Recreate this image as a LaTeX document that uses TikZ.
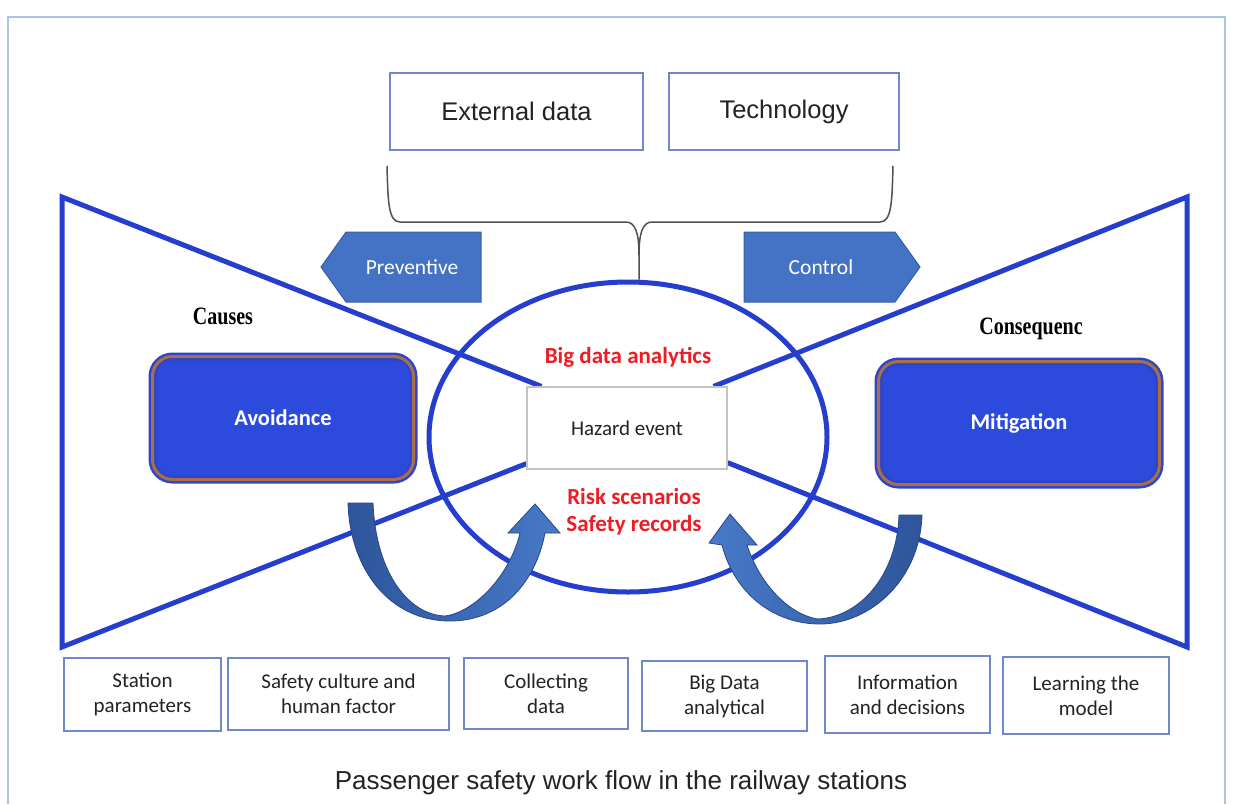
\documentclass[tikz,border=0pt]{standalone}
\usepackage{fontspec}
\setmainfont{Carlito}
\newfontfamily\arialf{Liberation Sans}
\newfontfamily\timesf{Liberation Serif}
\usetikzlibrary{shapes.geometric,backgrounds}
\definecolor{bowblue}{RGB}{38,62,205}
\definecolor{frameblue}{RGB}{170,195,235}
\definecolor{boxedge}{RGB}{110,135,205}
\definecolor{tagblue}{RGB}{68,114,196}
\definecolor{tagedge}{RGB}{55,95,170}
\definecolor{barfill}{RGB}{44,74,220}
\definecolor{baredge}{RGB}{48,68,200}
\definecolor{barbrown}{RGB}{165,112,75}
\definecolor{riskred}{RGB}{238,28,36}
\definecolor{darktext}{RGB}{35,35,35}
\definecolor{turnlight}{RGB}{72,122,200}
\definecolor{turndark}{RGB}{45,85,155}
\definecolor{turnedge}{RGB}{40,70,140}
\definecolor{bracegray}{RGB}{80,80,80}
\definecolor{hazgray}{RGB}{195,195,195}
\begin{document}
\begin{tikzpicture}[x=1pt,y=-1pt,
  bowline/.style={draw=bowblue,line width=5pt},
  topbox/.style={draw=boxedge,line width=1.3pt,fill=white,inner sep=0pt,minimum height=77,text=darktext,font=\arialf\fontsize{25.5}{30}\selectfont},
  factor/.style={draw=boxedge,line width=1.3pt,fill=white,inner sep=0pt,align=center,text=darktext,font=\fontsize{21}{25}\selectfont},
  barrier/.style={rounded corners=20pt,fill=barfill,draw=baredge,double=barbrown,double distance=3pt,line width=2.5pt,minimum height=123,text=white,font=\bfseries\fontsize{22.5}{27}\selectfont},
  tagshape/.style={fill=tagblue,draw=tagedge,line width=1pt},
  tagtext/.style={text=white,font=\fontsize{21.5}{24}\selectfont},
  turn/.style={draw=turnedge,line width=0.8pt},
  redtext/.style={text=riskred,align=center,font=\bfseries\fontsize{23}{27}\selectfont},
  sidehead/.style={font=\timesf\bfseries\fontsize{20}{24}\selectfont}]
\useasboundingbox (0,0) rectangle (1234,804);
\node[ellipse,bowline,minimum width=398,minimum height=310,inner sep=0pt] (core) at (628,437) {};
\node[draw=hazgray,line width=1.2pt,fill=white,minimum width=200,minimum height=82,inner sep=0pt,text=darktext,font=\fontsize{21}{24}\selectfont] (hazard) at (627,428) {Hazard event};
\coordinate (ltop) at (62,197); \coordinate (lbot) at (62,647);
\coordinate (rtop) at (1187,197); \coordinate (rbot) at (1187,647);
\begin{scope}[on background layer]
\fill[white] (0,0) rectangle (1234,804);
\draw[frameblue,line width=1.5pt] (8,804) -- (8,17) -- (1225,17) -- (1225,804);
\draw[bowline] ([xshift=15]hazard.north west) -- (ltop) -- (lbot) -- ([yshift=6]hazard.south west);
\draw[bowline] ([xshift=-14]hazard.north east) -- (rtop) -- (rbot) -- ([yshift=7]hazard.south east);
\end{scope}
\node[redtext] (bigdata-an) at (628,357) {Big data analytics};
\node[redtext] (records) at (634,512) {Risk scenarios\\Safety records};
\node[topbox,minimum width=253] (ext) at (516.5,111.5) {External data};
\node[topbox,minimum width=230] (tech) at (784,111.5) {Technology};
\coordinate (bl) at (387,166); \coordinate (br) at (893,166); \coordinate (bc) at ([xshift=11]core.north);
\draw[bracegray,line width=1.5pt] (bl) .. controls (388,200) and (388,222) .. (400,222) -- (626,222) .. controls (636,222) and (639,235) .. (639,255) -- (bc);
\draw[bracegray,line width=1.5pt] (br) .. controls (892,200) and (892,222) .. (880,222) -- (652,222) .. controls (642,222) and (639,235) .. (639,255);
\path[tagshape] (321,267) -- (346,232) -- (481,232) -- (481,302) -- (346,302) -- cycle;
\node[tagtext] (prev) at (412,267) {Preventive};
\path[tagshape] (744,232) -- (895,232) -- (920,267) -- (895,302) -- (744,302) -- cycle;
\node[tagtext] (ctrl) at (821,267) {Control};
\node[sidehead] (causes) at (223,316) {\scalebox{1}[1.25]{Causes}};
\node[sidehead] (conseq) at (1031,329) {\scalebox{1}[1.25]{Consequenc}};
\node[barrier,minimum width=261] (avoid) at (283,418) {Avoidance};
\node[barrier,minimum width=281] (mitig) at (1019,423) {Mitigation};
\path[turn,left color=turndark,right color=turnlight] (348,503) -- (373,503) .. controls (376,575) and (410,615) .. (445,616) .. controls (475,612) and (510,575) .. (520,533) -- (508,533) -- (535,504) -- (560,533) -- (545,533) .. controls (535,585) and (500,621) .. (450,621) .. controls (390,621) and (350,570) .. (348,503) -- cycle;
\path[turn,left color=turnlight,right color=turndark] (922,515) -- (899,515) .. controls (897,575) and (860,617) .. (818,619) .. controls (790,615) and (760,585) .. (747,545) -- (757,545) -- (730,514) -- (709,543) -- (722,545) .. controls (735,595) and (775,624) .. (820,624) .. controls (870,624) and (920,580) .. (922,515) -- cycle;
\node[factor,minimum width=157,minimum height=73] (station) at (142.5,694.5) {Station\\parameters};
\node[factor,minimum width=221,minimum height=72] (culture) at (338.5,694) {Safety culture and\\human factor};
\node[factor,minimum width=164,minimum height=71] (collect) at (546,693.5) {Collecting\\data};
\node[factor,minimum width=165,minimum height=70] (bigdata) at (724.5,696) {Big Data\\analytical};
\node[factor,minimum width=165,minimum height=77] (info) at (907.5,694.5) {Information\\and decisions};
\node[factor,minimum width=166,minimum height=77] (learn) at (1086,695.5) {Learning the\\model};
\node[anchor=base,text=darktext,font=\arialf\fontsize{26}{30}\selectfont] (caption) at (621,789) {Passenger safety work flow in the railway stations};
\end{tikzpicture}
\end{document}
